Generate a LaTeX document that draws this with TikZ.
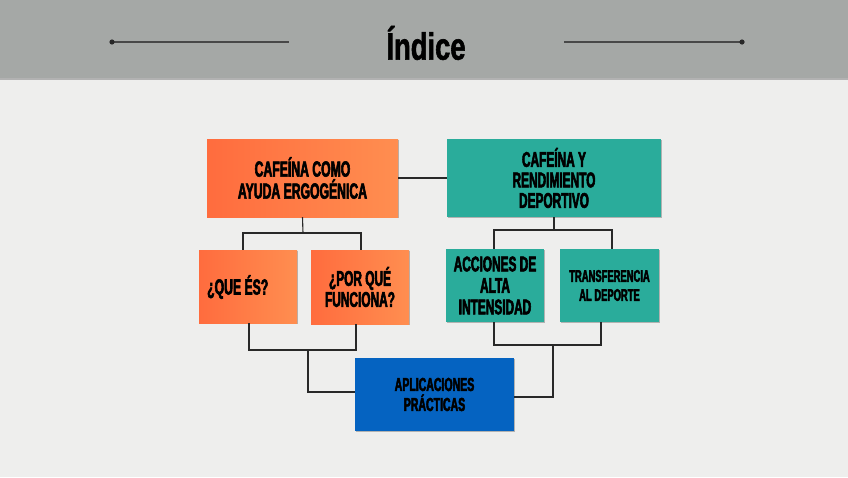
\documentclass[tikz,border=0pt]{standalone}
\usepackage{fontspec}
\setmainfont{Liberation Sans}
\newfontfamily\boxfont[FakeStretch=0.56,FakeBold=2.6]{Liberation Sans}
\newfontfamily\titlefont[FakeStretch=0.72,FakeBold=1.5]{Liberation Sans}
\usetikzlibrary{shadows}
\definecolor{bgc}{RGB}{238,238,237}
\definecolor{hdr}{RGB}{165,168,166}
\definecolor{orL}{RGB}{255,108,62}
\definecolor{orR}{RGB}{255,142,80}
\definecolor{teal}{RGB}{42,172,155}
\definecolor{blu}{RGB}{5,99,193}
\definecolor{ln}{RGB}{40,40,40}
\tikzset{
  box/.style={draw=none, inner sep=0pt, align=center, text=black,
    drop shadow={shadow xshift=1pt, shadow yshift=-1.2pt, opacity=0.25, fill=black}},
  obox/.style={box, left color=orL, right color=orR},
  tbox/.style={box, fill=teal},
  bbox/.style={box, fill=blu},
  conn/.style={draw=ln, line width=1.1pt},
  hline/.style={draw=ln!85, line width=1.3pt},
}
\begin{document}
\begin{tikzpicture}[x=1pt,y=-1pt]
\useasboundingbox (0,0) rectangle (848,477);
\fill[bgc] (0,0) rectangle (848,477);
\fill[black!30] (0,78) rectangle (848,79.5);
\fill[hdr] (0,0) rectangle (848,78);
% title
\node (title) at (426,43) {\titlefont\bfseries\fontsize{38}{40}\selectfont Índice};
\coordinate (l1) at (112,42);
\coordinate (l2) at (289,42);
\coordinate (r1) at (564,42);
\coordinate (r2) at (742,42);
\draw[hline] (l1) -- (l2);
\draw[hline] (r1) -- (r2);
\fill[ln] (l1) circle (2.6);
\fill[ln] (r2) circle (2.6);
% boxes
\node[obox, minimum width=191, minimum height=78, font=\boxfont\bfseries\fontsize{21.8}{22}\selectfont] (A) at (302.5,178) {CAFEÍNA COMO\\AYUDA ERGOGÉNICA};
\node[tbox, minimum width=214, minimum height=78, font=\boxfont\bfseries\fontsize{21.2}{20.5}\selectfont] (B) at (554,178) {CAFEÍNA Y\\RENDIMIENTO\\DEPORTIVO};
\node[obox, minimum width=98, minimum height=73] (C) at (248,286.5) {};
\node[anchor=west, inner sep=0pt, font=\boxfont\bfseries\fontsize{21.8}{22}\selectfont] (Ct) at (207,287) {¿QUE ÉS?};
\node[obox, minimum width=98, minimum height=74, font=\boxfont\bfseries\fontsize{21.2}{21}\selectfont] (D) at (360,287) {¿POR QUÉ\\FUNCIONA?};
\node[tbox, minimum width=98, minimum height=73, font=\boxfont\bfseries\fontsize{21.2}{21.5}\selectfont] (E) at (495,285.5) {ACCIONES DE\\ALTA\\INTENSIDAD};
\node[tbox, minimum width=99, minimum height=73, font=\boxfont\bfseries\fontsize{16.8}{19}\selectfont] (F) at (609.5,285.5) {TRANSFERENCIA\\AL DEPORTE};
\node[bbox, minimum width=159, minimum height=73, font=\boxfont\bfseries\fontsize{18.8}{20}\selectfont] (G) at (434.5,394.5) {APLICACIONES\\PRÁCTICAS};
% connectors
\draw[conn] (A.east) -- (B.west);
\coordinate (ja) at (303,233);
\draw[conn] (A.south) -- (ja);
\draw[conn] ([xshift=-5pt]C.north) |- (ja) -| ([xshift=1pt]D.north);
\coordinate (jb) at (554,230);
\draw[conn] (B.south) -- (jb);
\draw[conn] ([xshift=-1pt]E.north) |- (jb) -| ([xshift=2.5pt]F.north);
\coordinate (jc) at (308,350);
\draw[conn] ([xshift=1pt]C.south) |- (jc) -| ([xshift=-4pt]D.south);
\draw[conn] (jc) |- ([yshift=2.5pt]G.west);
\coordinate (jd) at (553,345);
\draw[conn] ([xshift=-1pt]E.south) |- (jd) -| ([xshift=-8.5pt]F.south);
\draw[conn] (jd) |- ([yshift=-2.5pt]G.east);
\end{tikzpicture}
\end{document}
